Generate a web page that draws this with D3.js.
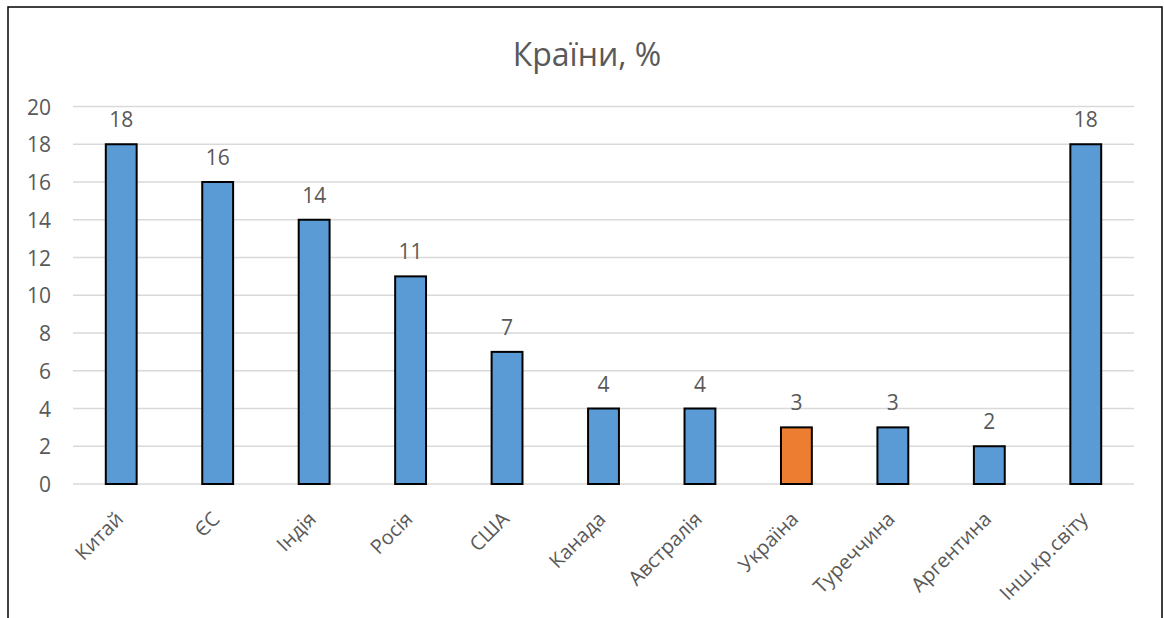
<!DOCTYPE html>
<html>
<head>
<meta charset="utf-8">
<script src="https://cdn.jsdelivr.net/npm/d3@7/dist/d3.min.js"></script>
<style>
  html, body { margin: 0; padding: 0; background: #fff; }
  svg { display: block; }
  text { font-family: "Open Sans", "Noto Sans", sans-serif; fill: #595959; }
</style>
</head>
<body>
<svg id="chart" width="1164" height="618"></svg>
<script>
const title = "Країни, %";
const categories = ["Китай", "ЄС", "Індія", "Росія", "США", "Канада", "Австралія", "Україна", "Туреччина", "Аргентина", "Інш.кр.світу"];
const values = [18, 16, 14, 11, 7, 4, 4, 3, 3, 2, 18];
const highlight = ["Україна"];
const yTicks = [0, 2, 4, 6, 8, 10, 12, 14, 16, 18, 20];

const svg = d3.select("#chart");
const plotLeft = 73, plotRight = 1134, plotTop = 106.5, plotBottom = 484;

// frame
svg.append("rect")
  .attr("x", 8).attr("y", 7)
  .attr("width", 1154).attr("height", 640)
  .attr("fill", "none").attr("stroke", "#000").attr("stroke-width", 1.5);

const x = d3.scaleBand().domain(categories).range([plotLeft, plotRight]).paddingInner(0.68).paddingOuter(0.34);
const y = d3.scaleLinear().domain([0, 20]).range([plotBottom, plotTop]);

// gridlines
svg.append("g").selectAll("line").data(yTicks).join("line")
  .attr("x1", plotLeft).attr("x2", plotRight)
  .attr("y1", d => y(d)).attr("y2", d => y(d))
  .attr("stroke", "#d9d9d9").attr("stroke-width", 1.5);

// y axis labels
const yAxis = d3.axisLeft(y).tickValues(yTicks).tickSize(0).tickPadding(0);
const yg = svg.append("g").attr("transform", `translate(51,0)`).call(yAxis);
yg.select(".domain").remove();
yg.selectAll("text").style("font-size", "21px").style("font-family", "'Open Sans', sans-serif").attr("fill", "#595959").attr("dy", "0.36em");

// bars
svg.append("g").selectAll("rect").data(categories).join("rect")
  .attr("x", d => x(d))
  .attr("width", x.bandwidth())
  .attr("y", (d, i) => y(values[i]))
  .attr("height", (d, i) => y(0) - y(values[i]))
  .attr("fill", d => highlight.includes(d) ? "#ED7D31" : "#5B9BD5")
  .attr("stroke", "#000").attr("stroke-width", 2);

// value labels
svg.append("g").selectAll("text").data(categories).join("text")
  .attr("x", d => x(d) + x.bandwidth() / 2)
  .attr("y", (d, i) => y(values[i]) - 17)
  .attr("text-anchor", "middle")
  .style("font-size", "21px")
  .text((d, i) => values[i]);

// category labels
const xAxis = d3.axisBottom(x).tickSize(0).tickPadding(0);
const xg = svg.append("g").attr("transform", `translate(0,${plotBottom})`).call(xAxis);
xg.select(".domain").remove();
xg.selectAll("text")
  .style("font-size", "20px")
  .style("font-family", "'Open Sans', sans-serif")
  .attr("fill", "#595959")
  .attr("text-anchor", "end")
  .attr("dominant-baseline", "central")
  .attr("dy", null)
  .attr("y", 0)
  .attr("transform", "translate(-2,31) rotate(-45)");

// title
svg.append("text")
  .attr("x", 587).attr("y", 66)
  .attr("text-anchor", "middle")
  .style("font-size", "32px")
  .text(title);
</script>
</body>
</html>
